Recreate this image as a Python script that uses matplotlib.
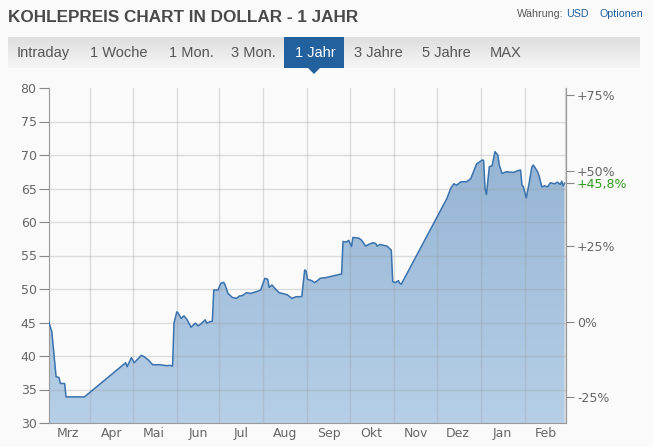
import numpy as np
import pandas as pd
import matplotlib
matplotlib.use('Agg')
import matplotlib.pyplot as plt
import matplotlib.dates as mdates
from matplotlib.colors import LinearSegmentedColormap
from matplotlib.patches import Rectangle, Polygon

# coal price, USD, one year (days counted from the first point)
start_date = '2017-03-03'
days = [0, 2, 5, 7, 8, 11, 12, 25, 54, 55, 58, 60, 65, 67, 70, 73, 78, 83, 85, 87,
        88, 90, 91, 93, 95, 97, 100, 101, 103, 105, 107, 110, 111, 113, 115, 116, 119, 121, 123, 124,
        126, 129, 132, 134, 136, 139, 142, 146, 149, 152, 154, 155, 157, 159, 162, 166, 168, 171, 174, 177,
        178, 180, 181, 182, 185, 187, 189, 191, 195, 200, 206, 207, 209, 211, 213, 214, 218, 220, 223, 225,
        228, 230, 231, 233, 238, 241, 242, 244, 246, 247, 248, 280, 283, 285, 287, 290, 294, 297, 301, 305,
        306, 307, 308, 310, 312, 314, 316, 317, 319, 322, 327, 330, 332, 333, 334, 336, 338, 340, 341, 344,
        345, 347, 349, 351, 353, 356, 358, 360, 361, 362, 363]
prices = [45.0, 43.6, 36.9, 36.8, 35.9, 35.9, 33.9, 33.9, 39.0, 38.4, 39.75, 39.0, 40.1, 39.9, 39.4, 38.7, 38.7, 38.55, 38.6, 38.5,
          44.9, 46.6, 46.4, 45.6, 46.0, 45.5, 44.3, 44.5, 44.9, 44.5, 44.8, 45.4, 44.9, 45.1, 45.2, 49.85, 49.85, 50.85, 51.0, 50.6,
          49.35, 48.75, 48.6, 48.95, 49.0, 49.45, 49.35, 49.6, 49.85, 51.6, 51.45, 50.25, 50.6, 50.1, 49.45, 49.25, 49.1, 48.6, 48.85, 48.85,
          48.9, 52.85, 52.7, 51.45, 51.25, 50.95, 51.25, 51.6, 51.7, 51.95, 52.25, 57.1, 57.0, 57.25, 56.35, 57.7, 57.6, 57.3, 56.4, 56.65,
          56.9, 56.8, 56.4, 56.65, 56.4, 55.8, 51.1, 50.95, 51.25, 50.85, 50.7, 63.45, 65.1, 65.7, 65.5, 66.0, 66.0, 66.5, 68.65, 69.25,
          69.2, 65.0, 64.1, 68.25, 68.4, 70.5, 70.0, 68.5, 67.25, 67.5, 67.4, 67.65, 67.75, 65.5, 65.25, 63.6, 65.75, 68.25, 68.5, 67.5,
          66.9, 65.25, 65.4, 65.25, 65.85, 65.7, 65.95, 65.6, 66.1, 65.4, 65.8]
base_price = 45.1
last_change = '+45,8%'
pct_ticks = [-25, 0, 25, 50, 75]
month_names = {1: 'Jan', 2: 'Feb', 3: 'Mrz', 4: 'Apr', 5: 'Mai', 6: 'Jun',
               7: 'Jul', 8: 'Aug', 9: 'Sep', 10: 'Okt', 11: 'Nov', 12: 'Dez'}
tabs = ['Intraday', '1 Woche', '1 Mon.', '3 Mon.', '1 Jahr', '3 Jahre', '5 Jahre', 'MAX']
tab_x = [17, 90, 169, 231, 295, 354, 422, 490]
active_tab = '1 Jahr'

dates = pd.Timestamp(start_date) + pd.to_timedelta(days, unit='D')

bg = '#fafafa'
grey = '#666666'
fig = plt.figure(figsize=(6.53, 4.47), dpi=100, facecolor=bg)

# header drawn in pixel coordinates
hdr = fig.add_axes([0, 0, 1, 1], zorder=0)
hdr.set_xlim(0, 653)
hdr.set_ylim(447, 0)
hdr.axis('off')
hdr.patch.set_alpha(0)
hdr.text(8, 17, 'KOHLEPREIS CHART IN DOLLAR - 1 JAHR', fontsize=12.3, fontweight='bold',
         color='#4a4a4a', family='Liberation Sans', va='center')
hdr.text(517, 14, 'Währung:', fontsize=7.7, color='#555555', family='Liberation Sans', va='center')
hdr.text(566, 14, 'USD', fontsize=7.7, color='#1f5f9e', family='Liberation Sans', va='center')
hdr.text(600, 14, 'Optionen', fontsize=7.7, color='#1f5f9e', family='Liberation Sans', va='center')

bar_cmap = LinearSegmentedColormap.from_list('bar', ['#dedede', '#f6f6f6'])
hdr.imshow(np.linspace(0, 1, 50).reshape(-1, 1), extent=[8, 640, 68, 37], cmap=bar_cmap,
           aspect='auto', zorder=1)
hdr.add_patch(Rectangle((284, 37), 60, 31, facecolor='#22619e', edgecolor='none', zorder=2))
hdr.add_patch(Polygon([[308, 68], [320, 68], [314, 74]], closed=True, facecolor='#22619e',
                      edgecolor='none', zorder=2))
for name, x in zip(tabs, tab_x):
    hdr.text(x, 53, name, fontsize=10.5, family='Liberation Sans', va='center', zorder=3,
             color='white' if name == active_tab else '#555555')
hdr.set_xlim(0, 653)
hdr.set_ylim(447, 0)

# price chart
ax = fig.add_axes([49 / 653, 1 - 423 / 447, 517 / 653, 335 / 447], zorder=2)
ax.set_facecolor(bg)
x0 = pd.Timestamp(start_date)
x1 = pd.Timestamp('2018-03-02')
ax.set_xlim(x0, x1)
ax.set_ylim(30, 80)

poly = ax.fill_between(dates, prices, 30, facecolor='none', edgecolor='none')
fill_cmap = LinearSegmentedColormap.from_list('fill', ['#b6cfe7', '#8eafd0'])
im = ax.imshow(np.linspace(0, 1, 100).reshape(-1, 1), origin='lower', cmap=fill_cmap,
               extent=[mdates.date2num(x0), mdates.date2num(x1), 30, 80], aspect='auto', zorder=1)
im.set_clip_path(poly.get_paths()[0], transform=ax.transData)
ax.plot(dates, prices, color='#3a72ad', lw=1.1, zorder=3)

for v in range(35, 80, 5):
    ax.axhline(v, color='#999999', alpha=0.3, lw=1, zorder=2)
for d in pd.date_range('2017-04-01', '2018-03-01', freq='MS'):
    ax.axvline(d, color='#999999', alpha=0.3, lw=1, zorder=2)

ax.set_yticks(range(30, 81, 5))
ax.xaxis.set_major_locator(mdates.MonthLocator(bymonthday=16))
ax.xaxis.set_major_formatter(plt.FuncFormatter(lambda v, p: month_names[mdates.num2date(v).month]))
ax.tick_params(axis='x', length=0, pad=3, labelsize=9, labelcolor=grey)
ax.tick_params(axis='y', length=7, color='#888888', labelsize=9, labelcolor=grey, pad=2)
for s in ['left', 'right', 'bottom']:
    ax.spines[s].set_color('#999999')
ax.spines['top'].set_visible(False)

ax2 = ax.twinx()
ax2.set_ylim((30 / base_price - 1) * 100, (80 / base_price - 1) * 100)
last_pct = (prices[-1] / base_price - 1) * 100
ax2.set_yticks(pct_ticks + [last_pct])
ax2.set_yticklabels([('+%d%%' % t if t > 0 else '%d%%' % t) for t in pct_ticks] + [last_change])
ax2.tick_params(axis='y', length=6, color='#888888', labelsize=9, labelcolor=grey, pad=2)
ax2.get_yticklabels()[-1].set_color('#2f9a1a')
for s in ['left', 'top', 'bottom']:
    ax2.spines[s].set_visible(False)
ax2.spines['right'].set_color('#999999')

fig.savefig('out.png', dpi=100, facecolor=bg)
